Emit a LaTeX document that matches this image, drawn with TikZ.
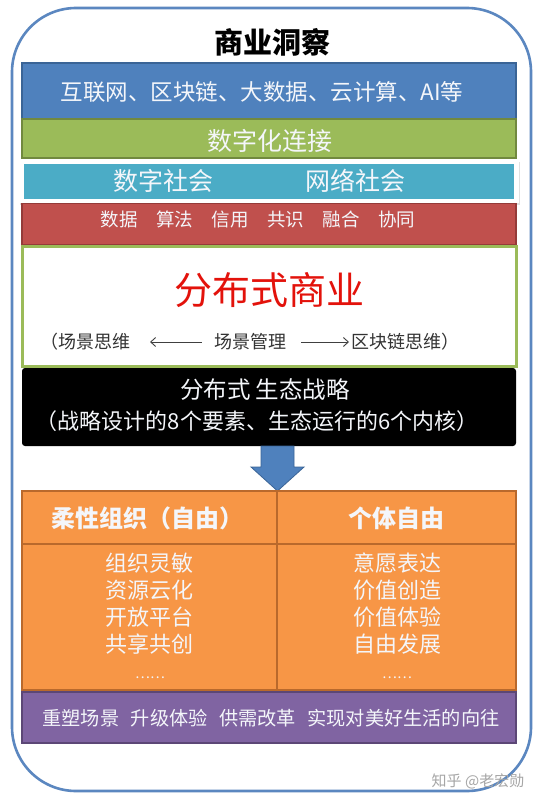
\documentclass[tikz,border=0pt]{standalone}
\usepackage{fontspec}
\setmainfont{Noto Sans CJK SC}
\usetikzlibrary{arrows.meta}
\definecolor{frameblue}{HTML}{5B87C0}
\definecolor{bandblue}{HTML}{4F81BD}
\definecolor{bandblueD}{HTML}{3A6496}
\definecolor{bandgreen}{HTML}{9BBB59}
\definecolor{bandgreenD}{HTML}{71893F}
\definecolor{bandcyan}{HTML}{4BACC6}
\definecolor{bandred}{HTML}{C0504D}
\definecolor{bandredD}{HTML}{943B39}
\definecolor{bandorange}{HTML}{F79646}
\definecolor{bandorangeD}{HTML}{B9692C}
\definecolor{bandpurple}{HTML}{8064A2}
\definecolor{bandpurpleD}{HTML}{5C4776}
\definecolor{titlered}{HTML}{E3120B}
\definecolor{lighttext}{HTML}{F4F6FA}
\newcommand{\fs}[1]{\fontsize{#1}{#1}\selectfont}
\begin{document}
\begin{tikzpicture}[x=1pt,y=-1pt,
  band/.style={line width=1.2pt, minimum width=494pt, inner sep=0pt, outer sep=0pt},
  cell/.style={draw=bandorangeD, fill=bandorange, line width=2.2pt, inner sep=0pt, outer sep=0pt},
  wtext/.style={text=lighttext, inner sep=1pt},
  subtext/.style={text=black!80, inner sep=0pt, font=\fs{18}},
  sarrow/.style={draw=black!75, line width=0.9pt, -{Straight Barb[length=5pt,width=9pt]}},
]
\useasboundingbox (0,0) rectangle (544,802);
\fill[white] (0,0) rectangle (544,802);
% outer frame
\draw[frameblue, line width=2.6pt, rounded corners=64pt] (12,8) rectangle (531,791);
% title
\node[font=\fs{29}\bfseries, text=black] (title) at (272,42) {商业洞察};
% blue band
\node[band, draw=bandblueD, fill=bandblue, minimum height=56pt] (tech) at (269,91) {};
\node[wtext, font=\fs{22.5}, text=lighttext] (techt) at (262,92) {互联网、区块链、大数据、云计算、AI等};
% green band
\node[band, draw=bandgreenD, fill=bandgreen, minimum height=39pt] (conn) at (269,138.5) {};
\node[wtext, font=\fs{25}] (connt) at (270,141) {数字化连接};
% white strip with cyan band
\fill[black!12] (20,162) rectangle (520,205);
\node[band, fill=white, minimum width=500pt, minimum height=43pt] (strip) at (269,181.5) {};
\node[band, fill=bandcyan, minimum width=490pt, minimum height=35pt] (soc) at (269,181.5) {};
\node[wtext, font=\fs{25}] (soc1) at (163,181) {数字社会};
\node[wtext, font=\fs{25}] (soc2) at (355,181) {网络社会};
% red band
\node[band, draw=bandredD, fill=bandred, minimum height=41pt] (base) at (269,224) {};
\node[wtext, font=\fs{18.5}] (baset) at (258,219) {数据\quad 算法\quad 信用\quad 共识\quad 融合\quad 协同};
% white box
\node[band, draw=bandgreen, line width=3pt, fill=white, minimum width=494pt, minimum height=120pt] (dist) at (269,306) {};
\node[font=\fs{38}, text=titlered] (distt) at (269,290) {分布式商业};
\node[subtext, anchor=east] (s1) at (131,342) {（场景思维};
\node[subtext] (s2) at (250,342) {场景管理};
\node[subtext, anchor=west] (s3) at (351,342) {区块链思维）};
\draw[sarrow, shorten <=12pt, shorten >=19pt] (s2) -- (s1);
\draw[sarrow, shorten <=15pt, shorten >=2pt] (s2) -- (s3);
% black box
\node[band, fill=black, rounded corners=3pt, minimum height=78pt] (eco) at (269,407) {};
\node[wtext, font=\fs{23.5}] (eco1) at (265,390) {分布式 生态战略};
\node[wtext, font=\fs{22}] (eco2) at (257,421) {（战略设计的8个要素、生态运行的6个内核）};
% big arrow
\draw[fill=bandblue, draw=bandblueD, line width=0.8pt, line join=miter]
  (261,446) -- (294,446) -- (294,467) -- (304,467) -- (277.5,491) -- (251,467) -- (261,467) -- cycle;
% table
\node[cell, minimum width=255pt, minimum height=53pt] (h1) at (149.5,517.5) {};
\node[cell, minimum width=239pt, minimum height=53pt] (h2) at (396.5,517.5) {};
\node[cell, minimum width=255pt, minimum height=146pt] (b1) at (149.5,617) {};
\node[cell, minimum width=239pt, minimum height=146pt] (b2) at (396.5,617) {};
\node[wtext, font=\fs{24}\bfseries] (h1t) at (147,518) {柔性组织（自由）};
\node[wtext, font=\fs{24}\bfseries] (h2t) at (396,518) {个体自由};
\node[wtext, font=\fontsize{22}{27}\selectfont, align=center] (b1t) at (149,603.5) {组织灵敏\\资源云化\\开放平台\\共享共创};
\node[wtext, font=\fontsize{22}{27}\selectfont, align=center] (b2t) at (397,603.5) {意愿表达\\价值创造\\价值体验\\自由发展};
\node[wtext, font=\fs{14}] (b1d) at (150,678) {……};
\node[wtext, font=\fs{14}] (b2d) at (397,678) {……};
% purple band
\node[band, draw=bandpurpleD, line width=2pt, fill=bandpurple, minimum height=51pt] (goal) at (269,717.5) {};
\node[wtext, font=\fs{19.2}] (goalt) at (271,718) {重塑场景\hspace{0.6em}升级体验\hspace{0.6em}供需改革\hspace{0.6em}实现对美好生活的向往};
% watermark
\node[text=black!35, font=\fs{15}, inner sep=0pt] (wm) at (478,781) {知乎 @老宏勋};
\end{tikzpicture}
\end{document}
